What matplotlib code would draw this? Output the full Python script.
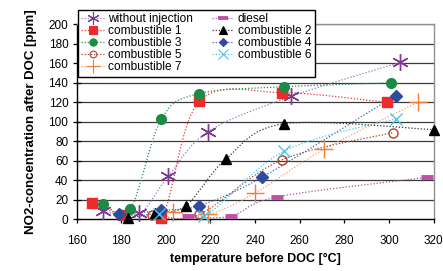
import numpy as np
import matplotlib
matplotlib.use("Agg")
import matplotlib.pyplot as plt
from matplotlib.path import Path
from matplotlib.patches import PathPatch
from matplotlib.lines import Line2D

plt.rcParams["font.family"] = ["Liberation Sans", "DejaVu Sans"]

# --- data (temperature [°C], NO2 [ppm]) ---
wi_t = [172, 188, 201, 219, 256, 305]
wi_v = [8, 6, 44, 90, 126, 161]

c1_t = [167, 181, 198, 215, 252, 299]
c1_v = [17, 4, 1, 121, 130, 120]

c3_t = [172, 184, 198, 215, 253, 301]
c3_v = [16, 10, 103, 129, 136, 140]

c5_t = [194, 215, 252, 302]
c5_v = [4, 5, 61, 89]

c7_t = [203, 219, 240, 271, 313]
c7_v = [7, 5, 27, 72, 120]

diesel_t = [210, 229, 250, 317]
diesel_v = [3, 3, 23, 43]

c2_t = [183, 195, 209, 227, 253, 320]
c2_v = [1, 6, 14, 62, 98, 92]

c4_t = [179, 198, 215, 243, 303]
c4_v = [5, 9, 14, 43, 127]

c6_t = [197, 217, 253, 303]
c6_v = [5, 3, 70, 103]

x_ticks = [160, 180, 200, 220, 240, 260, 280, 300, 320]
y_ticks = [0, 20, 40, 60, 80, 100, 120, 140, 160, 180, 200]


def smooth_path(xs, ys):
    """Excel-like smoothed line: cubic Bezier through the points."""
    p = np.column_stack([xs, ys]).astype(float)
    n = len(p)
    verts = [p[0]]
    codes = [Path.MOVETO]
    for i in range(n - 1):
        p_prev = p[i - 1] if i > 0 else p[i]
        p_next2 = p[i + 2] if i + 2 < n else p[i + 1]
        c1 = p[i] + (p[i + 1] - p_prev) / 6.0
        c2 = p[i + 1] - (p_next2 - p[i]) / 6.0
        verts += [c1, c2, p[i + 1]]
        codes += [Path.CURVE4] * 3
    return Path(verts, codes)


series = [
    # label, t, v, marker, marker color, face, size, line color, mew
    ("without injection", wi_t, wi_v, (6, 2, 0), "#7a3b8e", "#7a3b8e", 12, "#a070b8", 1.0),
    ("combustible 1", c1_t, c1_v, "s", "#ee2a2a", "#ee2a2a", 7, "#ee3030", 1.0),
    ("combustible 3", c3_t, c3_v, "o", "#1d8a45", "#1d8a45", 7, "#2a9050", 1.0),
    ("combustible 5", c5_t, c5_v, "o", "#a8452c", "none", 6.5, "#a8452c", 1.0),
    ("combustible 7", c7_t, c7_v, "+", "#f27c38", "#f27c38", 13, "#f5a070", 1.0),
    ("diesel", diesel_t, diesel_v, "_", "#c050a6", "#c050a6", 9, "#b050a0", 3.5),
    ("combustible 2", c2_t, c2_v, "^", "#000000", "#000000", 7, "#333333", 1.0),
    ("combustible 4", c4_t, c4_v, "D", "#2d4c9c", "#2d4c9c", 6, "#4060b0", 1.0),
    ("combustible 6", c6_t, c6_v, "x", "#48c6f0", "#48c6f0", 9, "#48c6f0", 1.0),
]

fig = plt.figure(figsize=(4.43, 2.71), dpi=100)
ax = fig.add_axes([0.173, 0.191, 0.8056, 0.719])
ax.set_xlim(160, 320)
ax.set_ylim(0, 200)

for y in y_ticks[1:]:
    ax.axhline(y, color="#3a3a3a", lw=0.9, zorder=1)

handles = []
for lab, t, v, mk, mc, fc, ms, lc, mew in series:
    patch = PathPatch(smooth_path(t, v), fill=False, edgecolor=lc, lw=0.9,
                      linestyle=(0, (1, 1.5)), zorder=2)
    ax.add_patch(patch)
    ax.plot(t, v, linestyle="none", marker=mk, color=mc, markerfacecolor=fc,
            markeredgecolor=mc, markersize=ms, markeredgewidth=mew, zorder=3,
            clip_on=False)
    handles.append(Line2D([], [], color=lc, lw=0.9, linestyle=(0, (1, 1.5)),
                          marker=mk, markerfacecolor=fc, markeredgecolor=mc,
                          markersize=ms * 0.75, markeredgewidth=mew * 0.8))

for side in ["top", "right"]:
    ax.spines[side].set_color("#909090")
    ax.spines[side].set_linewidth(1.0)
for side in ["left", "bottom"]:
    ax.spines[side].set_color("black")
    ax.spines[side].set_linewidth(1.0)

ax.set_xticks(x_ticks)
ax.set_yticks(y_ticks)
ax.tick_params(axis="y", direction="inout", length=6, width=0.9, pad=3, labelsize=8.5)
ax.tick_params(axis="x", direction="out", length=3, width=0.9, pad=8, labelsize=8.5)

ax.set_xlabel("temperature before DOC [°C]", fontsize=9, fontweight="bold", labelpad=5)
ax.set_ylabel("NO2-concentration after DOC [ppm]", fontsize=9.5, fontweight="bold", labelpad=8)

leg = fig.legend(handles, [s[0] for s in series], ncol=2, loc="upper left",
                 bbox_to_anchor=(0.176, 0.963), bbox_transform=fig.transFigure,
                 borderaxespad=0, fontsize=8.6, frameon=True, fancybox=False,
                 framealpha=1, edgecolor="black", labelspacing=0.0,
                 handlelength=1.9, handletextpad=0.3, columnspacing=1.6,
                 borderpad=0.28)
leg.get_frame().set_linewidth(1.0)
leg.set_zorder(5)

fig.savefig("out.png", dpi=100)
